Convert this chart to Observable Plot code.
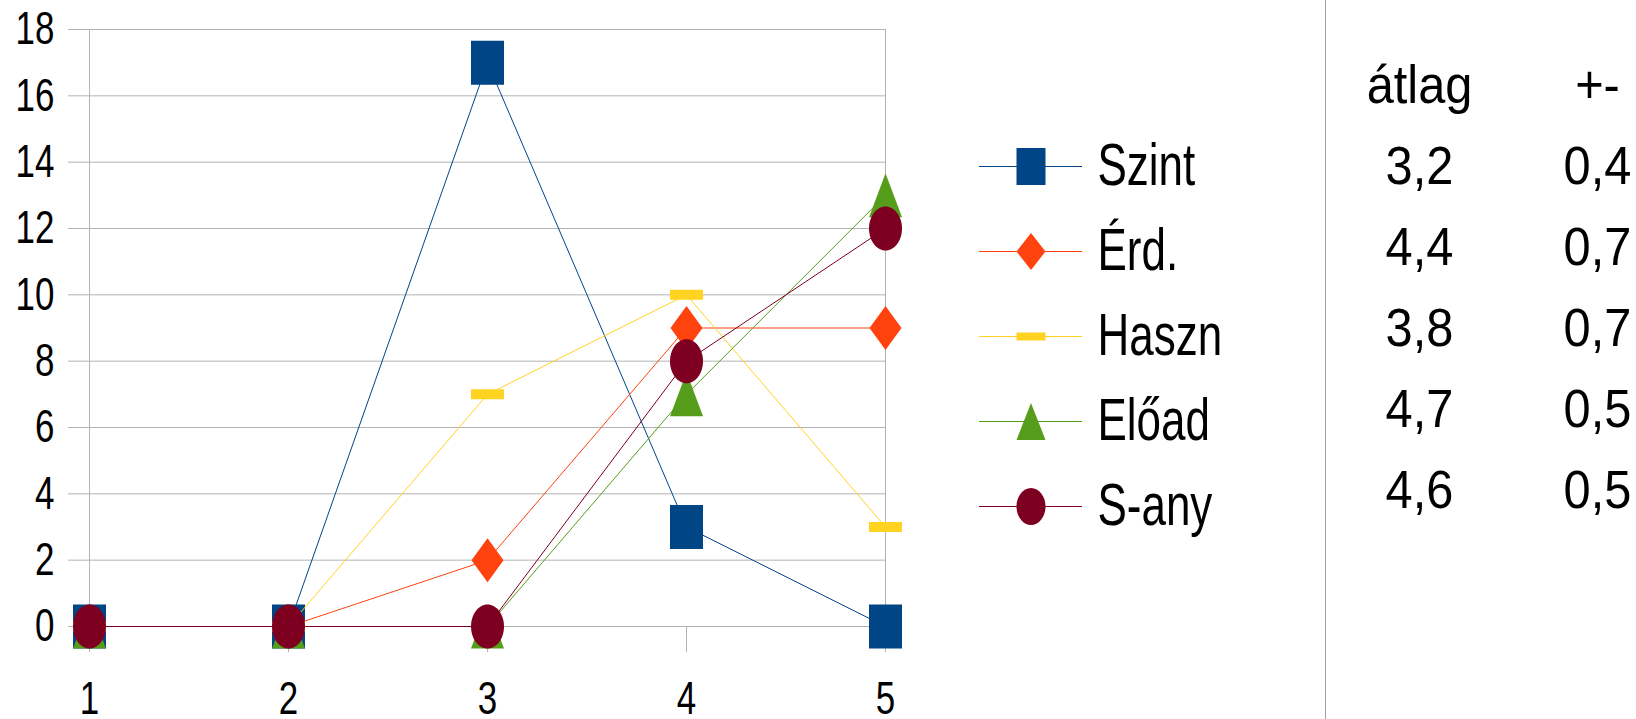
<!DOCTYPE html>
<html><head><meta charset="utf-8">
<script src="https://cdn.jsdelivr.net/npm/d3@7"></script>
<script src="https://cdn.jsdelivr.net/npm/@observablehq/plot@0.6"></script>
<style>
body{margin:0;background:#fff;}
#wrap{position:relative;width:1636px;height:719px;overflow:hidden;background:#fff;}
#wrap svg{position:absolute;top:0;overflow:visible;background:transparent;}
#sep{position:absolute;left:1325px;top:0;width:0;height:719px;border-left:1px solid #a0a0a0;}
</style></head><body><div id="wrap"><div id="sep"></div></div>
<script>
// ---- data ----
const categories = [1, 2, 3, 4, 5];
const seriesNames = ["Szint", "Érd.", "Haszn", "Előad", "S-any"];
const szint = [0, 0, 17, 3, 0];
const erd   = [0, 0, 2, 9, 9];
const haszn = [0, 0, 7, 10, 3];
const eload = [0, 0, 0, 7, 13];
const sany  = [0, 0, 0, 8, 12];
const yTicks = [0, 2, 4, 6, 8, 10, 12, 14, 16, 18];
const tableHeader = ["átlag", "+-"];
const atlag = ["3,2", "4,4", "3,8", "4,7", "4,6"];
const pluszMinusz = ["0,4", "0,7", "0,7", "0,5", "0,5"];

// ---- styles ----
const colors = ["#004586", "#ff420e", "#ffd320", "#579d1c", "#7e0021"];
const GRID = "#b3b3b3";
const FONT = "'Liberation Sans', Arial, sans-serif";

const values = [szint, erd, haszn, eload, sany];

// custom marker shapes (width x height)
const rectSym = (w, h) => ({draw(c) { c.moveTo(-w/2, -h/2); c.lineTo(w/2, -h/2); c.lineTo(w/2, h/2); c.lineTo(-w/2, h/2); c.closePath(); }});
const diamondSym = (w, h) => ({draw(c) { c.moveTo(0, -h/2); c.lineTo(w/2, 0); c.lineTo(0, h/2); c.lineTo(-w/2, 0); c.closePath(); }});
const triSym = (w, h) => ({draw(c) { c.moveTo(0, -h/2); c.lineTo(w/2, h/2); c.lineTo(-w/2, h/2); c.closePath(); }});
const ellipseSym = (w, h) => ({draw(c) {
  const a = w/2, b = h/2, k = 0.5523;
  c.moveTo(a, 0);
  c.bezierCurveTo(a, k*b, k*a, b, 0, b);
  c.bezierCurveTo(-k*a, b, -a, k*b, -a, 0);
  c.bezierCurveTo(-a, -k*b, -k*a, -b, 0, -b);
  c.bezierCurveTo(k*a, -b, a, -k*b, a, 0);
  c.closePath();
}});
const mainSymbols = [rectSym(33, 44), diamondSym(32, 44), rectSym(33, 10), triSym(33, 44), ellipseSym(33, 44)];
const legendSymbols = [rectSym(29, 37), diamondSym(29, 37), rectSym(29, 8), triSym(29, 37), ellipseSym(29, 37)];

const data = seriesNames.map((name, i) => categories.map((c, j) => ({series: name, x: c, y: values[i][j]})));

const wrap = document.getElementById("wrap");

// ---- main chart ----
const main = Plot.plot({
  width: 900, height: 719,
  marginLeft: 88, marginRight: 14, marginTop: 29, marginBottom: 93,
  style: {fontFamily: FONT, fontSize: "46px", color: "#000", background: "transparent"},
  x: {type: "point", domain: categories, padding: 0},
  y: {domain: [0, 18]},
  marks: [
    Plot.ruleY(yTicks, {stroke: GRID}),
    Plot.ruleX([categories[0], categories[categories.length - 1]], {stroke: GRID}),
    Plot.axisY({ticks: yTicks, tickSize: 20, tickPadding: 14, stroke: GRID, label: null}),
    Plot.axisX({tickSize: 26, tickPadding: 29, stroke: GRID, label: null}),
    ...data.flatMap((d, i) => [
      Plot.line(d, {x: "x", y: "y", stroke: colors[i], strokeWidth: 1}),
      Plot.dot(d, {x: "x", y: "y", symbol: mainSymbols[i], fill: colors[i], stroke: "none", r: 10})
    ])
  ]
});
main.style.left = "0px";
wrap.appendChild(main);

// ---- legend ----
const legend = Plot.plot({
  width: 400, height: 719,
  marginLeft: 39, marginRight: 258, marginTop: 164, marginBottom: 212,
  style: {fontFamily: FONT, fontSize: "59px", color: "#000", background: "transparent"},
  x: {domain: [0, 1], axis: null},
  y: {type: "point", domain: seriesNames, axis: null, padding: 0},
  marks: seriesNames.flatMap((name, i) => [
    Plot.ruleY([name], {y: d => d, x1: 0, x2: 1, stroke: colors[i], strokeWidth: 1}),
    Plot.dot([name], {x: () => 0.5, y: d => d, symbol: legendSymbols[i], fill: colors[i], stroke: "none", r: 10}),
    Plot.text([name], {x: () => 1, y: d => d, text: d => d, dx: 15, textAnchor: "start", fill: "#000"})
  ])
});
legend.style.left = "940px";
wrap.appendChild(legend);

// ---- table ----
const tableRows = [
  ...tableHeader.map((h) => ({row: 0, col: h, text: h})),
  ...atlag.map((v, i) => ({row: i + 1, col: tableHeader[0], text: v})),
  ...pluszMinusz.map((v, i) => ({row: i + 1, col: tableHeader[1], text: v}))
];
const table = Plot.plot({
  width: 311, height: 719,
  marginLeft: 94, marginRight: 39, marginTop: 85, marginBottom: 228,
  style: {fontFamily: FONT, fontSize: "53px", color: "#000", background: "transparent"},
  x: {type: "point", domain: tableHeader, axis: null, padding: 0},
  y: {type: "point", domain: [0, 1, 2, 3, 4, 5], axis: null, padding: 0},
  marks: [
    Plot.text(tableRows, {x: "col", y: "row", text: "text", textAnchor: "middle", fill: "#000"})
  ]
});
table.style.left = "1325px";
wrap.appendChild(table);

// horizontal compression of glyphs (reference text is condensed)
function condense(svg, k) {
  svg.querySelectorAll("text").forEach(t => {
    const len = t.getComputedTextLength();
    if (len > 0) { t.setAttribute("textLength", (len * k).toFixed(2)); t.setAttribute("lengthAdjust", "spacingAndGlyphs"); }
  });
}
condense(main, 0.76);
condense(legend, 0.745);
condense(table, 0.92);
</script>
</body></html>
